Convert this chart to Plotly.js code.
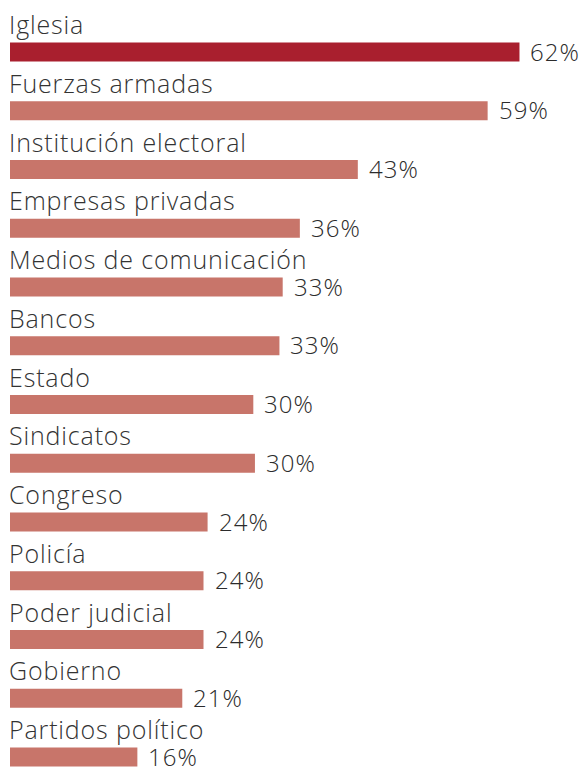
<!DOCTYPE html>
<html>
<head>
<meta charset="utf-8">
<script src="https://cdn.plot.ly/plotly-3.0.1.min.js"></script>
<style>html,body{margin:0;padding:0;background:#fff;}#chart{width:579px;height:768px;}</style>
</head>
<body>
<div id="chart"></div>
<script>
const categories = ["Iglesia","Fuerzas armadas","Institución electoral","Empresas privadas","Medios de comunicación","Bancos","Estado","Sindicatos","Congreso","Policía","Poder judicial","Gobierno","Partidos político"];
const values = [62.4, 58.5, 42.6, 35.5, 33.4, 33.0, 29.8, 30.0, 24.2, 23.7, 23.7, 21.1, 15.6];
const highlight = "Iglesia";

const colors = categories.map(c => c === highlight ? "#A91F2E" : "#C8756A");
const FONT = "'Open Sans', Lato, sans-serif";

const annotations = [];
categories.forEach((c, i) => {
  annotations.push({
    x: 0, y: c, xref: "x", yref: "y",
    text: "<span style='letter-spacing:0.85px'>" + c + "</span>", showarrow: false,
    xanchor: "left", yanchor: "middle", xshift: -2, yshift: 28, borderpad: 0,
    font: {family: FONT, size: 25, color: "#333333", weight: 300}
  });
  annotations.push({
    x: values[i], y: c, xref: "x", yref: "y",
    text: "<span style='letter-spacing:1px'>" + Math.round(values[i]) + "%</span>", showarrow: false,
    xanchor: "left", yanchor: "middle", xshift: 10, yshift: 1, borderpad: 0,
    font: {family: FONT, size: 24, color: "#2b2b2b", weight: 300}
  });
});

const trace = {
  type: "bar", orientation: "h",
  x: values, y: categories,
  marker: {color: colors},
  width: 0.32,
  hoverinfo: "skip"
};

const layout = {
  width: 579, height: 768,
  margin: {l: 10, r: 0, t: 0, b: 0, pad: 0},
  paper_bgcolor: "#ffffff", plot_bgcolor: "#ffffff",
  showlegend: false,
  xaxis: {range: [0, 69.69], visible: false, fixedrange: true},
  yaxis: {type: "category", categoryorder: "array", categoryarray: categories,
          range: [12.187, -0.885], visible: false, fixedrange: true},
  annotations: annotations
};

Plotly.newPlot("chart", [trace], layout, {displayModeBar: false, staticPlot: true});
</script>
</body>
</html>
